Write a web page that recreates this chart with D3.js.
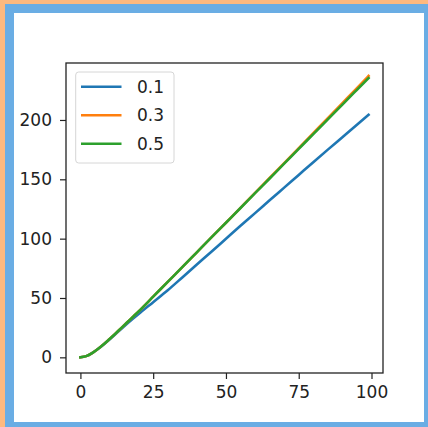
<!DOCTYPE html>
<html>
<head>
<meta charset="utf-8">
<script src="https://cdn.jsdelivr.net/npm/d3@7"></script>
<style>
  html, body { margin: 0; padding: 0; background: #fdb97f; }
  svg { display: block; }
</style>
</head>
<body>
<svg width="428" height="427"></svg>
<script>
// sample positions along x
const xs = [0, 2, 4, 6, 8, 10, 12, 14, 16, 18, 20, 25, 30, 35, 40, 45, 50, 55, 60, 65, 70, 75, 80, 85, 90, 95, 99];

const s01 = [0, 1.0, 3.5, 7.0, 10.9, 15.1, 19.5, 23.9, 28.2, 32.4, 36.5, 46.5, 56.5, 67.3, 78.2, 89.0, 99.9, 110.8, 121.5, 132.3, 143.0, 153.7, 164.4, 175.0, 185.5, 196.0, 204.3];
const s03 = [0, 1.0, 3.5, 7.0, 11.0, 15.4, 19.9, 24.6, 29.3, 34.0, 38.7, 51.1, 63.6, 76.0, 88.5, 101.0, 113.4, 126.0, 138.6, 151.1, 163.7, 176.3, 188.9, 201.5, 214.2, 226.9, 237.1];
const s05 = [0, 1.0, 3.5, 7.0, 11.0, 15.4, 19.9, 24.6, 29.3, 34.0, 38.7, 51.1, 63.6, 76.0, 88.5, 101.0, 113.4, 125.8, 138.3, 150.7, 163.2, 175.6, 188.1, 200.5, 213.0, 225.4, 235.3];

const labels = ["0.1", "0.3", "0.5"];
const colors = ["#1f77b4", "#ff7f0e", "#2ca02c"];
const xTicks = [0, 25, 50, 75, 100];
const yTicks = [0, 50, 100, 150, 200];

const series = [s01, s03, s05].map((ys, i) => ({
    name: labels[i],
    color: colors[i],
    points: xs.map((x, j) => [x, ys[j]])
}));

const svg = d3.select("svg");

// page frame: blue border round a white card
svg.append("rect").attr("x", 5).attr("y", 4).attr("width", 423).attr("height", 423).attr("fill", "#6aade4");
svg.append("rect").attr("x", 14).attr("y", 13).attr("width", 410).attr("height", 409).attr("fill", "#fff");

const plot = { left: 66, top: 63, right: 383, bottom: 373 };

const x = d3.scaleLinear().domain([-4.95, 103.95]).range([plot.left, plot.right]);
const y = d3.scaleLinear().domain([-13.2, 248]).range([plot.bottom, plot.top]);

const line = d3.line()
    .x(d => x(d[0]))
    .y(d => y(d[1]))
    .curve(d3.curveMonotoneX);

svg.append("g")
    .selectAll("path")
    .data(series)
    .join("path")
    .attr("fill", "none")
    .attr("stroke", d => d.color)
    .attr("stroke-width", 2.6)
    .attr("stroke-linecap", "square")
    .attr("d", d => line(d.points));

// axes
const font = "DejaVu Sans, sans-serif";

const xAxis = svg.append("g")
    .attr("transform", `translate(0,${plot.bottom})`)
    .call(d3.axisBottom(x).tickValues(xTicks).tickSize(6).tickPadding(7).tickSizeOuter(0));

const yAxis = svg.append("g")
    .attr("transform", `translate(${plot.left},0)`)
    .call(d3.axisLeft(y).tickValues(yTicks).tickSize(6).tickPadding(8).tickSizeOuter(0));

[xAxis, yAxis].forEach(g => {
    g.select(".domain").remove();
    g.selectAll(".tick line").attr("stroke", "#222").attr("stroke-width", 1.2);
    g.selectAll(".tick text")
        .attr("fill", "#222")
        .style("font-family", font)
        .style("font-size", "17px");
});

// spines
svg.append("rect")
    .attr("x", plot.left)
    .attr("y", plot.top)
    .attr("width", plot.right - plot.left)
    .attr("height", plot.bottom - plot.top)
    .attr("fill", "none")
    .attr("stroke", "#222")
    .attr("stroke-width", 1.3);

// legend
const legend = svg.append("g");
legend.append("rect")
    .attr("x", 75.7).attr("y", 72)
    .attr("width", 98.3).attr("height", 91)
    .attr("rx", 3)
    .attr("fill", "#fff")
    .attr("fill-opacity", 0.8)
    .attr("stroke", "#d6d6d6");

const item = legend.selectAll("g.item")
    .data(series)
    .join("g")
    .attr("class", "item")
    .attr("transform", (d, i) => `translate(0,${86.7 + i * 28.5})`);

item.append("line")
    .attr("x1", 81).attr("x2", 121.5)
    .attr("stroke", d => d.color)
    .attr("stroke-width", 2.6);

item.append("text")
    .attr("x", 137)
    .attr("dy", "0.36em")
    .attr("fill", "#222")
    .style("font-family", font)
    .style("font-size", "17px")
    .text(d => d.name);
</script>
</body>
</html>
